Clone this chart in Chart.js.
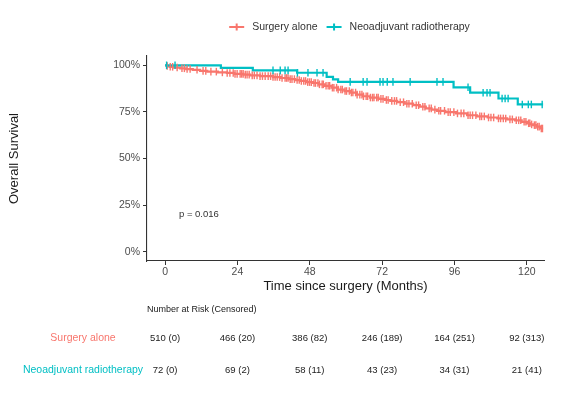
<!DOCTYPE html>
<html>
<head>
<meta charset="utf-8">
<script src="https://cdn.jsdelivr.net/npm/chart.js@4/dist/chart.umd.min.js"></script>
<style>
  html, body { margin: 0; padding: 0; background: #fff; }
</style>
</head>
<body>
<canvas id="graficoSobrevida" width="562" height="396"></canvas>
<script>
const familia = "'Liberation Sans', Arial, sans-serif";

// groups and colours
const grupos = ['Surgery alone', 'Neoadjuvant radiotherapy'];
const cores = ['#F8766D', '#00BFC4'];

// Kaplan-Meier steps, surgery alone (months, survival %)
const cirurgiaTempos = [0, 0.6, 1.5, 3.0, 5.0, 7.0, 9.2, 11.6, 14.0, 17.5, 20.5, 23.0, 26.0, 28.2, 31.5,
  35.8, 38.5, 41.0, 43.2, 44.8, 47.0, 49.1, 51.0, 53.0, 55.2, 57.4, 59.5, 61.5, 63.6, 65.7, 68.0,
  70.8, 72.9, 74.7, 77.0, 79.5, 82.3, 84.5, 86.5, 88.4, 90.2, 93.0, 96.5, 100.2, 103.5, 107.0,
  110.2, 113.5, 116.1, 118.3, 120.1, 121.2, 122.1, 123.3, 124.5, 125.4];
const cirurgiaSobrevida = [100, 99.6, 99.2, 98.8, 98.4, 98.0, 97.6, 97.0, 96.6, 96.2, 95.9, 95.4, 95.0, 94.6, 94.2,
  93.7, 93.2, 92.6, 92.1, 91.6, 91.0, 90.5, 89.8, 89.0, 88.0, 87.0, 86.2, 85.4, 84.3, 83.4, 82.7,
  82.0, 81.4, 80.9, 80.2, 79.4, 78.6, 77.8, 76.9, 76.2, 75.6, 74.9, 74.2, 73.2, 72.6, 72.0,
  71.5, 71.0, 70.5, 69.7, 68.9, 68.3, 67.9, 67.1, 66.1, 66.1];
// censoring times, surgery alone
const cirurgiaCensura = [0.7, 1.7, 2.5, 4.0, 5.6, 6.4, 7.3, 8.3, 10.6, 12.6, 13.5, 15.2, 17.0, 19.0, 20.6, 21.5,
  22.6, 23.2, 23.9, 24.9, 25.4, 25.9, 26.6, 27.2, 27.9, 28.9, 29.6, 30.5, 31.5, 32.3, 33.2, 34.2,
  35.0, 35.8, 36.5, 37.2, 38.0, 38.8, 39.8, 40.3, 40.8, 41.5, 42.1, 42.9, 43.8, 44.5, 45.2, 46.0,
  46.6, 47.3, 47.9, 48.5, 49.4, 49.9, 50.7, 51.2, 52.1, 52.5, 53.4, 54.1, 54.6, 55.5, 56.0, 56.9,
  57.4, 58.3, 58.8, 59.7, 60.2, 61.1, 61.8, 62.3, 63.2, 63.7, 64.6, 65.3, 65.8, 66.7, 67.2, 68.1,
  68.8, 69.3, 70.2, 70.7, 71.6, 72.3, 73.4, 74.0, 75.2, 76.1, 76.8, 78.0, 79.1, 80.2, 80.9, 82.0,
  83.3, 84.1, 85.5, 86.2, 87.6, 88.3, 89.5, 90.8, 91.4, 92.7, 93.9, 94.6, 95.8, 97.0, 98.2, 99.1,
  100.5, 101.2, 102.0, 103.1, 104.4, 105.0, 105.9, 107.3, 108.1, 109.0, 110.6, 111.3, 112.2, 113.0,
  114.4, 115.2, 116.5, 117.3, 118.0, 119.1, 119.7, 120.6, 121.0, 121.6, 122.5, 123.0, 123.6, 124.1,
  124.8, 125.2];

// Kaplan-Meier steps, neoadjuvant radiotherapy
const radioTempos = [0, 18.5, 29.1, 43.8, 53.6, 55.7, 57.4, 95.7, 101.2, 110.6, 117.0, 125.4];
const radioSobrevida = [100, 98.6, 97.3, 96.0, 93.8, 92.5, 91.1, 88.2, 85.3, 82.2, 79.0, 79.0];
const radioCensura = [0.5, 3.3, 35.8, 38.2, 39.8, 40.8, 43.9, 47.4, 50.4, 52.4, 61.4, 65.7, 67.0, 71.3,
  72.3, 73.7, 75.6, 81.3, 90.2, 92.2, 100.5, 105.5, 106.8, 107.8, 111.8, 112.8, 113.8, 118.5,
  120.5, 121.5, 125.1];

// axis ticks
const xTicks = [0, 24, 48, 72, 96, 120];
const yTicks = [0, 25, 50, 75, 100];

// number at risk table
const riscoTempos = [0, 24, 48, 72, 96, 120];
const riscoCirurgia = ['510 (0)', '466 (20)', '386 (82)', '246 (189)', '164 (251)', '92 (313)'];
const riscoRadio = ['72 (0)', '69 (2)', '58 (11)', '43 (23)', '34 (31)', '21 (41)'];

const pTexto = 'p = 0.016';
const pPosicao = [4.6, 20];

function sobrevidaEm(tempos, valores, t) {
  let v = valores[0];
  for (let i = 0; i < tempos.length; i++) {
    if (tempos[i] <= t) v = valores[i];
  }
  return v;
}

function curva(tempos, valores) {
  return tempos.map((t, i) => ({ x: t, y: valores[i] }));
}

function censuras(tempos, curvaTempos, curvaValores) {
  return tempos.map(t => ({ x: t, y: sobrevidaEm(curvaTempos, curvaValores, t) }));
}

const estiloCensura = {
  type: 'scatter',
  showLine: false,
  pointStyle: 'line',
  pointRotation: 90,
  pointRadius: 3.8,
  pointBorderWidth: 1.4
};

const dadosGrafico = {
  datasets: [
    Object.assign({ data: censuras(radioCensura, radioTempos, radioSobrevida), borderColor: cores[1] }, estiloCensura),
    Object.assign({ data: censuras(cirurgiaCensura, cirurgiaTempos, cirurgiaSobrevida), borderColor: cores[0] }, estiloCensura),
    {
      type: 'line',
      label: grupos[1],
      data: curva(radioTempos, radioSobrevida),
      borderColor: cores[1],
      borderWidth: 2.2,
      stepped: true,
      pointRadius: 0,
      fill: false
    },
    {
      type: 'line',
      label: grupos[0],
      data: curva(cirurgiaTempos, cirurgiaSobrevida),
      borderColor: cores[0],
      borderWidth: 2.2,
      stepped: true,
      pointRadius: 0,
      fill: false
    }
  ]
};

// legend, p value and risk table
const textoExtra = {
  id: 'textoExtra',
  afterDraw(chart) {
    const { ctx, chartArea, scales } = chart;
    ctx.save();

    // legend on top
    ctx.font = '10.5px ' + familia;
    ctx.textBaseline = 'middle';
    ctx.textAlign = 'left';
    const larguras = grupos.map(g => ctx.measureText(g).width);
    const total = larguras.reduce((a, b) => a + b, 0) + grupos.length * 23 + 9 * (grupos.length - 1);
    let x = (chartArea.left + chartArea.right) / 2 + 4 - total / 2;
    const yLeg = 27;
    grupos.forEach((g, i) => {
      ctx.strokeStyle = cores[i];
      ctx.lineWidth = 2;
      ctx.beginPath();
      ctx.moveTo(x, yLeg); ctx.lineTo(x + 15, yLeg);
      ctx.moveTo(x + 7.5, yLeg - 3.5); ctx.lineTo(x + 7.5, yLeg + 3.5);
      ctx.stroke();
      ctx.fillStyle = '#333';
      ctx.fillText(g, x + 23, yLeg);
      x += 23 + larguras[i] + 9;
    });

    // p value
    ctx.font = '9.5px ' + familia;
    ctx.fillStyle = '#333';
    ctx.fillText(pTexto, scales.x.getPixelForValue(pPosicao[0]), scales.y.getPixelForValue(pPosicao[1]));

    // number at risk
    ctx.font = '9px ' + familia;
    ctx.fillStyle = '#1a1a1a';
    ctx.fillText('Number at Risk (Censored)', chartArea.left, 310);

    const linhas = [riscoCirurgia, riscoRadio];
    const yLinhas = [338, 370];
    linhas.forEach((linha, i) => {
      ctx.font = '10.5px ' + familia;
      ctx.fillStyle = cores[i];
      ctx.textAlign = 'center';
      ctx.fillText(grupos[i], 83, yLinhas[i]);
      ctx.font = '9.5px ' + familia;
      ctx.fillStyle = '#222';
      linha.forEach((txt, j) => {
        ctx.fillText(txt, scales.x.getPixelForValue(riscoTempos[j]), yLinhas[i]);
      });
    });
    ctx.restore();
  }
};

const configGrafico = {
  data: dadosGrafico,
  options: {
    responsive: false,
    animation: false,
    layout: { padding: { top: 56, right: 18, bottom: 100, left: 0 } },
    plugins: {
      legend: { display: false },
      tooltip: { enabled: false }
    },
    scales: {
      x: {
        type: 'linear',
        min: -6,
        max: 125.7,
        afterBuildTicks: s => { s.ticks = xTicks.map(v => ({ value: v })); },
        afterFit: s => { s.height = 35; },
        grid: { drawOnChartArea: false, drawTicks: true, tickLength: 4, color: '#333' },
        border: { display: true, color: '#333', width: 1.1 },
        ticks: { color: '#4d4d4d', font: { size: 10.5, family: familia }, padding: 1, maxRotation: 0 },
        title: {
          display: true,
          text: 'Time since surgery (Months)',
          color: '#1a1a1a',
          font: { size: 13, family: familia },
          padding: { top: 0, bottom: 2 }
        }
      },
      y: {
        type: 'linear',
        min: -5,
        max: 105,
        afterBuildTicks: s => { s.ticks = yTicks.map(v => ({ value: v })); },
        afterFit: s => { s.width = 147; },
        grid: { drawOnChartArea: false, drawTicks: true, tickLength: 4, color: '#333' },
        border: { display: true, color: '#333', width: 1.1 },
        ticks: {
          color: '#4d4d4d',
          font: { size: 10.5, family: familia },
          padding: 3,
          callback: v => v + '%'
        },
        title: {
          display: true,
          text: 'Overall Survival',
          color: '#1a1a1a',
          font: { size: 13, family: familia },
          padding: { top: 7, bottom: 0 }
        }
      }
    }
  },
  plugins: [textoExtra]
};

const ctx = document.getElementById('graficoSobrevida').getContext('2d');
const graficoSobrevida = new Chart(ctx, configGrafico);
</script>
</body>
</html>
